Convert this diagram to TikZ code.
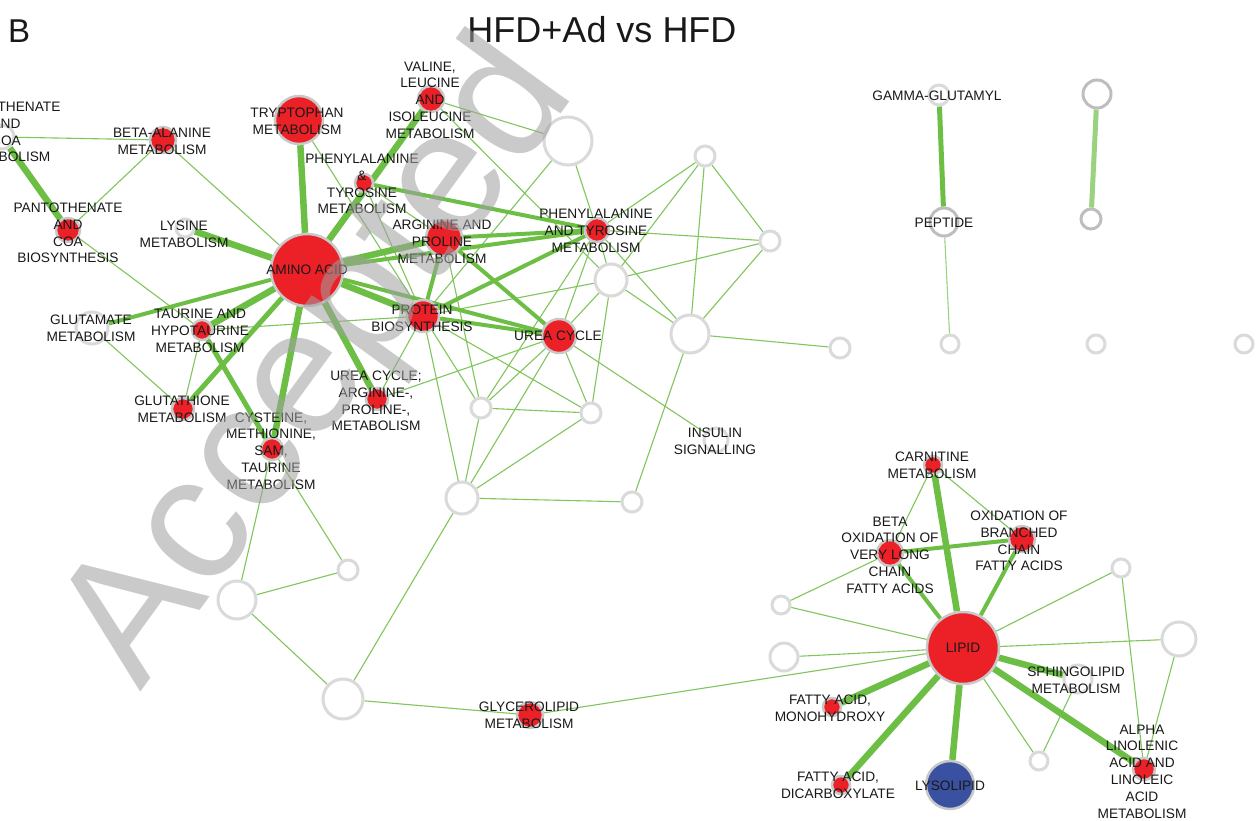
\documentclass[tikz,border=0pt]{standalone}
\usepackage{fontspec}
\newfontfamily\arialf{Liberation Sans}
\newcommand\lblfont{\arialf\fontsize{13.7}{16.8}\selectfont}
\definecolor{nred}{RGB}{236,32,39}
\definecolor{nbord}{RGB}{200,200,200}
\definecolor{wbord}{RGB}{218,218,218}
\definecolor{dbord}{RGB}{190,190,190}
\definecolor{nblue}{RGB}{58,80,160}
\definecolor{egreen}{RGB}{108,190,69}
\definecolor{tgreen}{RGB}{128,198,92}
\definecolor{lgreen}{RGB}{155,210,127}
\definecolor{lblc}{RGB}{25,25,25}
\definecolor{wmark}{RGB}{160,160,160}
\pgfdeclarelayer{bg}
\pgfdeclarelayer{edges}
\pgfdeclarelayer{top}
\pgfsetlayers{bg,edges,main,top}
\tikzset{
  rn/.style={circle, fill=nred, draw=nbord, line width=2.5pt, inner sep=0pt, minimum size=#1},
  bn/.style={circle, fill=nblue, draw=nbord, line width=2.5pt, inner sep=0pt, minimum size=#1},
  wn/.style={circle, fill=white, draw=wbord, line width=3pt, inner sep=0pt, minimum size=#1},
  dn/.style={circle, fill=white, draw=dbord, line width=3pt, inner sep=0pt, minimum size=#1},
  lbl/.style={font=\lblfont, align=center, text=lblc, inner sep=0pt},
  ethin/.style={draw=tgreen, line width=1.1pt},
  elight/.style={draw=lgreen, line width=1.1pt},
  emed/.style={draw=egreen, line width=4pt},
  ethk/.style={draw=egreen, line width=6.5pt},
}
\begin{document}
\begin{tikzpicture}[x=1pt,y=-1pt]
\useasboundingbox (0,0) rectangle (1256,820);
\begin{pgfonlayer}{bg}
\fill[white] (0,0) rectangle (1256,820);
\end{pgfonlayer}
% ---------- nodes ----------
% amino acid cluster
\path node[rn=72] (amino) at (307,270) {}
 node[rn=48] (tryp) at (299,120) {}
 node[rn=26] (valine) at (431,99) {}
 node[rn=18] (phesm) at (364,183) {}
 node[rn=36] (argpro) at (444,238) {}
 node[rn=24] (pheright) at (597,230) {}
 node[rn=32] (protein) at (423,316) {}
 node[rn=34] (urea) at (559,336) {}
 node[rn=22] (ureaarg) at (377,399) {}
 node[rn=22] (cyst) at (272,449) {}
 node[rn=22] (gluta) at (183,409) {}
 node[rn=20] (taurine) at (202,330) {}
 node[wn=32] (glutam) at (92,328) {}
 node[wn=18] (lysine) at (185,228) {}
 node[rn=24] (pantocoa) at (68,230) {}
 node[rn=26] (betaala) at (163,140) {}
 node[wn=24] (cutnode) at (2,137) {}
 node[wn=48] (w1) at (568,141) {}
 node[wn=20] (w2) at (705,156) {}
 node[wn=20] (w3) at (770,241) {}
 node[wn=32] (w4) at (611,280) {}
 node[wn=38] (w5) at (690,334) {}
 node[wn=20] (w6) at (840,348) {}
 node[wn=20] (w7) at (481,408) {}
 node[wn=20] (w8) at (591,413) {}
 node[wn=24] (insulin) at (716,440) {}
 node[wn=32] (w10) at (462,498) {}
 node[wn=20] (w11) at (632,502) {}
 node[wn=20] (w12) at (348,570) {}
 node[wn=38] (w13) at (237,600) {}
 node[wn=40] (w14) at (343,699) {}
 node[rn=26] (glycero) at (530,715) {};
% top right
\path node[wn=20] (gamma) at (939,95) {}
 node[dn=28] (peptide) at (944,222) {}
 node[dn=28] (tr1) at (1097,94) {}
 node[dn=20] (tr2) at (1091,219) {}
 node[wn=18] (b1) at (950,344) {}
 node[wn=18] (b2) at (1096,344) {}
 node[wn=18] (b3) at (1244,344) {};
% lipid cluster
\path node[rn=72] (lipid) at (963,648) {}
 node[rn=18] (carn) at (933,465) {}
 node[rn=26] (betaox) at (890,553) {}
 node[rn=26] (branched) at (1022,539) {}
 node[wn=28] (sphingo) at (1078,679) {}
 node[rn=18] (mono) at (832,707) {}
 node[rn=18] (dicarb) at (841,785) {}
 node[bn=48] (lyso) at (950,785) {}
 node[rn=22] (alpha) at (1144,769) {}
 node[wn=18] (lw1) at (781,605) {}
 node[wn=28] (lw2) at (784,657) {}
 node[wn=18] (lw3) at (1121,568) {}
 node[wn=34] (lw4) at (1179,639) {}
 node[wn=18] (lw5) at (1039,761) {};
% ---------- edges ----------
\begin{pgfonlayer}{edges}
% thin
\foreach \a/\b in {betaala/cutnode, betaala/pantocoa, betaala/amino, pantocoa/taurine,
  taurine/gluta, glutam/gluta, taurine/protein, tryp/protein, valine/w1, valine/w4,
  w1/protein, w1/pheright, w2/pheright, w2/w3, w2/w5, w2/w4, w3/pheright, w3/w4, w3/w5,
  w4/pheright, w4/protein, w4/urea, w4/w5, w4/w8, w5/pheright, w5/w6, w5/w11,
  urea/pheright, urea/insulin, urea/w7, urea/w8, urea/w10, urea/ureaarg,
  protein/ureaarg, protein/w7, protein/w8, protein/w10, argpro/w7, pheright/w7,
  phesm/protein, phesm/argpro,
  w10/w7, w10/w8, w10/w11, w10/w14, w13/w14, w13/w12, w13/cyst, w12/cyst, w7/w8,
  w14/glycero, glycero/lipid,
  lipid/lw1, betaox/lw1, lipid/lw2, lipid/lw3, lipid/lw4, lipid/lw5, sphingo/lw5,
  lw3/alpha, lw4/alpha, carn/betaox, carn/branched}
  {\draw[ethin] (\a) -- (\b);}
\draw[elight] (peptide) -- (b1);
% medium
\foreach \a/\b in {amino/urea, amino/pheright, amino/glutam, phesm/pheright,
  protein/pheright, argpro/pheright, protein/urea, argpro/urea, argpro/protein,
  lipid/betaox, lipid/branched, betaox/branched}
  {\draw[emed] (\a) -- (\b);}
\draw[draw=egreen, line width=5pt] (taurine) -- (cyst);
\draw[draw=egreen, line width=5pt] (amino) -- (gluta);
% thick
\foreach \a/\b in {amino/tryp, amino/valine, amino/lysine, amino/taurine, amino/cyst,
  amino/ureaarg, amino/protein, amino/argpro, pantocoa/cutnode,
  lipid/carn, lipid/lyso, lipid/alpha, lipid/dicarb, lipid/mono, lipid/sphingo}
  {\draw[ethk] (\a) -- (\b);}
\draw[draw=egreen, line width=5pt] (gamma) -- (peptide);
\draw[draw=lgreen, line width=5pt] (tr1) -- (tr2);
\end{pgfonlayer}
% ---------- labels & watermark ----------
\begin{pgfonlayer}{top}
\node[lbl] (lamino) at (amino) {AMINO ACID};
\node[lbl] (ltryp) at (297,121) {TRYPTOPHAN\\METABOLISM};
\node[lbl] (lvaline) at (430,100) {VALINE,\\LEUCINE\\AND\\ISOLEUCINE\\METABOLISM};
\node[lbl] (lphesm) at (362,184) {PHENYLALANINE\\\&\\TYROSINE\\METABOLISM};
\node[lbl] (largpro) at (442,242) {ARGININE AND\\PROLINE\\METABOLISM};
\node[lbl] (lpheright) at (596,231) {PHENYLALANINE\\AND TYROSINE\\METABOLISM};
\node[lbl] (lprotein) at (422,318) {PROTEIN\\BIOSYNTHESIS};
\node[lbl] (lurea) at (558,336) {UREA CYCLE};
\node[lbl] (lureaarg) at (376,401) {UREA CYCLE;\\ARGININE-,\\PROLINE-,\\METABOLISM};
\node[lbl] (lcyst) at (271,451) {CYSTEINE,\\METHIONINE,\\SAM,\\TAURINE\\METABOLISM};
\node[lbl] (lgluta) at (182,409.5) {GLUTATHIONE\\METABOLISM};
\node[lbl] (ltaurine) at (200,331) {TAURINE AND\\HYPOTAURINE\\METABOLISM};
\node[lbl] (lglutam) at (91,328) {GLUTAMATE\\METABOLISM};
\node[lbl] (llysine) at (184,234) {LYSINE\\METABOLISM};
\node[lbl] (lpantocoa) at (68,233) {PANTOTHENATE\\AND\\COA\\BIOSYNTHESIS};
\node[lbl] (lbetaala) at (162,141.5) {BETA-ALANINE\\METABOLISM};
\node[lbl] (lcut) at (6,132) {PANTOTHENATE\\AND\\COA\\METABOLISM};
\node[lbl] (linsulin) at (715,441.5) {INSULIN\\SIGNALLING};
\node[lbl] (lglycero) at (529,715.5) {GLYCEROLIPID\\METABOLISM};
\node[lbl] (lgamma) at (937,96) {GAMMA-GLUTAMYL};
\node[lbl] (lpeptide) at (944,223) {PEPTIDE};
\node[lbl] (llipid) at (lipid) {LIPID};
\node[lbl] (lcarn) at (932,465.5) {CARNITINE\\METABOLISM};
\node[lbl] (lbetaox) at (890,555) {BETA\\OXIDATION OF\\VERY LONG\\CHAIN\\FATTY ACIDS};
\node[lbl] (lbranched) at (1019,541) {OXIDATION OF\\BRANCHED\\CHAIN\\FATTY ACIDS};
\node[lbl] (lsphingo) at (1076,680.5) {SPHINGOLIPID\\METABOLISM};
\node[lbl] (lmono) at (830,708.5) {FATTY ACID,\\MONOHYDROXY};
\node[lbl] (ldicarb) at (838,785.5) {FATTY ACID,\\DICARBOXYLATE};
\node[lbl] (llyso) at (950,786) {LYSOLIPID};
\node[lbl] (lalpha) at (1142,771.5) {ALPHA\\LINOLENIC\\ACID AND\\LINOLEIC\\ACID\\METABOLISM};
% titles
\node[font=\arialf\fontsize{33}{36}\selectfont, text=lblc, anchor=base west, inner sep=0pt] (panel) at (8,42) {B};
\node[font=\arialf\fontsize{36}{40}\selectfont, text=lblc, anchor=base, inner sep=0pt] (title) at (602,42) {HFD+Ad vs HFD};
% watermark
\node[font=\arialf\fontsize{178}{190}\selectfont, text=wmark, opacity=0.55, text opacity=0.55, rotate=54, anchor=base west, inner sep=0pt] (wm) at (140,693) {Accepted};
\end{pgfonlayer}
\end{tikzpicture}
\end{document}
